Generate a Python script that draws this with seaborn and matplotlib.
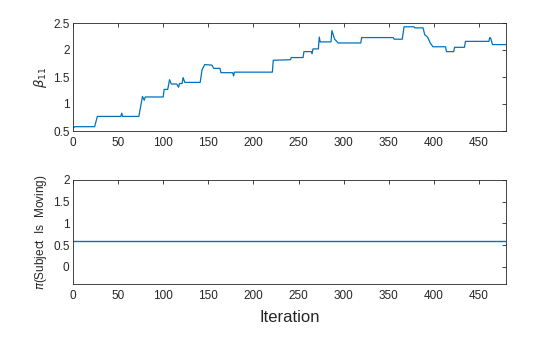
import matplotlib
matplotlib.use("Agg")
import matplotlib.pyplot as plt
import matplotlib.ticker as mticker
import seaborn as sns
import pandas as pd

# ---- data ----
beta_iter = [0, 2, 24, 27, 53, 54, 55, 73, 77, 79, 80, 100, 101, 105, 107, 109, 115, 117,
             118, 121, 122, 124, 141, 143, 146, 154, 156, 163, 164, 177, 178, 179, 221,
             222, 241, 242, 255, 256, 264, 265, 266, 272, 273, 274, 286, 287, 290, 294,
             319, 320, 355, 356, 365, 367, 378, 379, 388, 390, 393, 396, 399, 413, 414,
             422, 423, 434, 435, 461, 462, 463, 465, 480]
beta_vals = [0.55, 0.58, 0.58, 0.77, 0.77, 0.83, 0.77, 0.77, 1.14, 1.07, 1.13, 1.13, 1.27,
             1.27, 1.45, 1.37, 1.37, 1.31, 1.38, 1.38, 1.49, 1.40, 1.40, 1.63, 1.73, 1.72,
             1.66, 1.66, 1.58, 1.58, 1.52, 1.59, 1.59, 1.81, 1.82, 1.86, 1.86, 1.97, 1.97,
             1.93, 2.02, 2.02, 2.24, 2.15, 2.15, 2.36, 2.20, 2.13, 2.13, 2.23, 2.23, 2.20,
             2.20, 2.43, 2.43, 2.41, 2.41, 2.28, 2.24, 2.13, 2.06, 2.06, 1.97, 1.97, 2.05,
             2.05, 2.16, 2.16, 2.23, 2.22, 2.10, 2.10]
pi_iter = [0, 480]
pi_vals = [0.6, 0.6]

x_ticks = [0, 50, 100, 150, 200, 250, 300, 350, 400, 450]
beta_ticks = [0.5, 1, 1.5, 2, 2.5]
pi_ticks = [0, 0.5, 1, 1.5, 2]

sns.set_style("white")
plt.rcParams['font.family'] = ['Liberation Sans', 'DejaVu Sans']
plt.rcParams['mathtext.fontset'] = 'dejavusans'

line_color = "#0072BD"
text_color = "#262626"
axis_color = "#262626"

fig = plt.figure(figsize=(5.6, 3.37), dpi=100)
ax1 = fig.add_axes([73/560, 1-131/337, 433/560, 108/337])
ax2 = fig.add_axes([73/560, 1-284/337, 433/560, 104/337])

df1 = pd.DataFrame({"Iteration": beta_iter, "beta": beta_vals})
df2 = pd.DataFrame({"Iteration": pi_iter, "pi": pi_vals})
sns.lineplot(data=df1, x="Iteration", y="beta", ax=ax1, color=line_color, linewidth=0.9,
             estimator=None, sort=False)
sns.lineplot(data=df2, x="Iteration", y="pi", ax=ax2, color=line_color, linewidth=1.0,
             estimator=None, sort=False)

fmt = mticker.FuncFormatter(lambda v, p: "%g" % v)
for ax, yt, yl in [(ax1, beta_ticks, (0.5, 2.5)), (ax2, pi_ticks, (-0.4, 2))]:
    ax.set_xlim(0, 480)
    ax.set_ylim(*yl)
    ax.set_xticks(x_ticks)
    ax.set_yticks(yt)
    ax.yaxis.set_major_formatter(fmt)
    ax.tick_params(direction="in", length=3, width=0.6, top=True, right=True,
                   labelsize=8.5, colors=text_color)
    ax.tick_params(axis="x", pad=4)
    ax.tick_params(axis="y", pad=2.5)
    for s in ax.spines.values():
        s.set_visible(True)
        s.set_color(axis_color)
        s.set_linewidth(0.6)
    ax.set_xlabel("")

ax1.set_ylabel(r"$\beta_{11}$", fontsize=9.5, color=text_color, labelpad=3)
ax2.set_ylabel(r"$\pi$(Subject  Is  Moving)", fontsize=8.5, color=text_color, labelpad=3)
ax2.set_xlabel("Iteration", fontsize=12, color=text_color, labelpad=6)

fig.savefig("out.png", dpi=100)
